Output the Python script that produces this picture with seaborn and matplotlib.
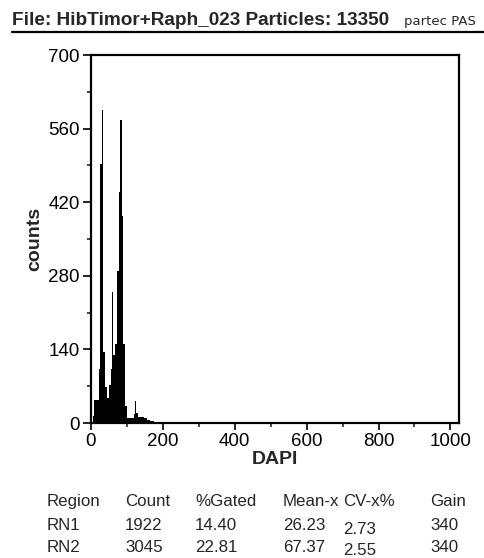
import matplotlib
matplotlib.use("Agg")
import matplotlib.pyplot as plt
import seaborn as sns
from matplotlib.lines import Line2D

# DAPI histogram: bin edges (channel) and counts per bin
bin_edges = [5, 8, 22, 25, 30, 33, 38, 44, 49, 55, 59, 61, 68, 72, 77, 81, 85, 90,
             94, 100, 120, 123, 126, 132, 148, 156, 165, 176]
counts = [14, 44, 103, 492, 595, 135, 68, 47, 73, 102, 250, 130, 150, 290, 440, 577,
          393, 150, 33, 10, 17, 42, 19, 12, 9, 6, 4]

x_ticks = [0, 200, 400, 600, 800, 1000]
y_ticks = [0, 140, 280, 420, 560, 700]

title_main = "File: HibTimor+Raph_023 Particles: 13350"
title_tag = "partec PAS"

table_header = ["Region", "Count", "%Gated", "Mean-x", "CV-x%", "Gain"]
table_rows = [
    ["RN1", "1922", "14.40", "26.23", "2.73", "340"],
    ["RN2", "3045", "22.81", "67.37", "2.55", "340"],
]

sns.set_style("ticks")
plt.rcParams["font.family"] = ["Liberation Sans", "DejaVu Sans"]

W, H = 484, 558
fig = plt.figure(figsize=(W / 100, H / 100), dpi=100)
fig.patch.set_facecolor("white")

ax = fig.add_axes([91 / W, 1 - 423 / H, 368 / W, 368 / H])
ax.set_facecolor("white")

mids = [(bin_edges[i] + bin_edges[i + 1]) / 2 for i in range(len(counts))]
sns.histplot(x=mids, weights=counts, bins=bin_edges, ax=ax, color="black",
             alpha=1.0, linewidth=0, element="bars", fill=True)

ax.set_xlim(0, 1024)
ax.set_ylim(0, 700)
ax.set_xticks(x_ticks)
ax.set_xticks([100, 300, 500, 700, 900], minor=True)
ax.set_yticks(y_ticks)
ax.set_yticks([70, 210, 350, 490, 630], minor=True)
ax.set_xticklabels([str(v) for v in x_ticks])
ax.set_yticklabels([str(v) for v in y_ticks])

for s in ax.spines.values():
    s.set_visible(True)
    s.set_linewidth(1.6)
    s.set_color("black")

ax.tick_params(axis="both", which="major", direction="out", width=1.2,
               labelsize=13.5, colors="black")
ax.tick_params(axis="y", which="major", length=6, pad=2)
ax.tick_params(axis="x", which="major", length=5, pad=2)
ax.tick_params(axis="both", which="minor", direction="out", width=1.2, length=3)

ax.set_xlabel("DAPI", fontsize=14, fontweight="bold", labelpad=1)
ax.set_ylabel("counts", fontsize=14, fontweight="bold", labelpad=4)

# header line
fig.text(12 / W, 1 - 25 / H, title_main, fontsize=13.7, fontweight="bold",
         ha="left", va="baseline")
fig.text(404 / W, 1 - 25 / H, title_tag, fontsize=9.5, ha="left", va="baseline",
         family="DejaVu Sans")
fig.add_artist(Line2D([12 / W, 1.0], [1 - 32 / H, 1 - 32 / H], color="black",
                      linewidth=1.6, transform=fig.transFigure))

# statistics table
col_x = [47, 125, 195, 283, 343, 430]
row_y = [501.5, 526, 547.5]
for j, txt in enumerate(table_header):
    fig.text(col_x[j] / W, 1 - row_y[0] / H, txt, fontsize=12.2, ha="left", va="center")
for i, row in enumerate(table_rows):
    for j, txt in enumerate(row):
        dy = 3 if j == 4 else 0
        fig.text(col_x[j] / W, 1 - (row_y[i + 1] + dy) / H, txt, fontsize=12.2,
                 ha="left", va="center")

fig.savefig("out.png", dpi=100)
